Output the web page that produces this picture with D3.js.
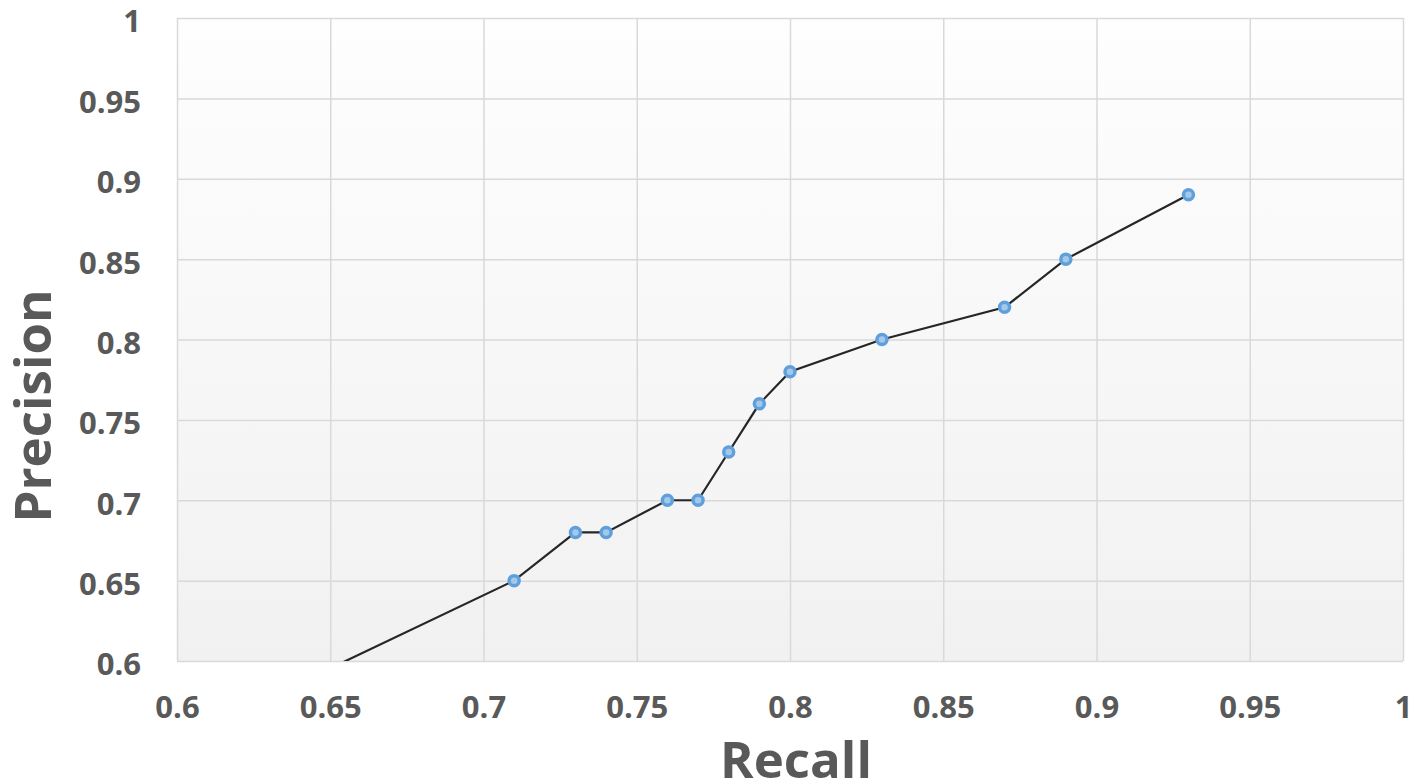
<!DOCTYPE html>
<html>
<head>
<meta charset="utf-8">
<script src="https://cdn.jsdelivr.net/npm/d3@7/dist/d3.min.js"></script>
<style>
  html, body { margin: 0; padding: 0; background: #fff; }
  svg text { font-family: "Open Sans", sans-serif; font-weight: bold; fill: #595959; }
</style>
</head>
<body>
<div id="chart"></div>
<script>
// precision / recall points (first one lies below the visible range)
const recall = [0.6, 0.71, 0.73, 0.74, 0.76, 0.77, 0.78, 0.79, 0.80, 0.83, 0.87, 0.89, 0.93];
const precision = [0.55, 0.65, 0.68, 0.68, 0.70, 0.70, 0.73, 0.76, 0.78, 0.80, 0.82, 0.85, 0.89];
const xTicks = [0.6, 0.65, 0.7, 0.75, 0.8, 0.85, 0.9, 0.95, 1];
const yTicks = [0.6, 0.65, 0.7, 0.75, 0.8, 0.85, 0.9, 0.95, 1];

const W = 1427, H = 784;
const margin = {top: 18, right: 24, bottom: 123, left: 177};
const width = W - margin.left - margin.right;
const height = H - margin.top - margin.bottom;

const svg = d3.select("#chart").append("svg")
  .attr("width", W)
  .attr("height", H);

const defs = svg.append("defs");
const grad = defs.append("linearGradient")
  .attr("id", "bg").attr("x1", 0).attr("y1", 0).attr("x2", 0).attr("y2", 1);
grad.append("stop").attr("offset", "0%").attr("stop-color", "#fefefe");
grad.append("stop").attr("offset", "100%").attr("stop-color", "#f1f1f1");

defs.append("clipPath").attr("id", "plotClip")
  .append("rect").attr("width", width).attr("height", height);

const g = svg.append("g").attr("transform", `translate(${margin.left},${margin.top})`);

const x = d3.scaleLinear().domain([0.6, 1]).range([0, width]);
const y = d3.scaleLinear().domain([0.6, 1]).range([height, 0]);

g.append("rect").attr("width", width).attr("height", height).attr("fill", "url(#bg)");

// gridlines
g.append("g")
  .call(d3.axisBottom(x).tickValues(xTicks).tickSize(height).tickFormat(""))
  .call(a => a.select(".domain").remove())
  .call(a => a.selectAll("line").attr("stroke", "#d9d9d9").attr("stroke-width", 1.5));
g.append("g")
  .call(d3.axisLeft(y).tickValues(yTicks).tickSize(-width).tickFormat(""))
  .call(a => a.select(".domain").remove())
  .call(a => a.selectAll("line").attr("stroke", "#d9d9d9").attr("stroke-width", 1.5));

// tick labels
const xAxis = g.append("g").attr("transform", `translate(0,${height})`)
  .call(d3.axisBottom(x).tickValues(xTicks).tickSize(0).tickPadding(35).tickFormat(d3.format("")));
xAxis.select(".domain").remove();
xAxis.selectAll("text").style("font-size", "31px");

const yAxis = g.append("g")
  .call(d3.axisLeft(y).tickValues(yTicks).tickSize(0).tickPadding(36).tickFormat(d3.format("")));
yAxis.select(".domain").remove();
yAxis.selectAll("text").style("font-size", "31px").attr("y", 4);

// series
const pts = recall.map((r, i) => ({r, p: precision[i]}));
const plot = g.append("g").attr("clip-path", "url(#plotClip)");

plot.append("path").datum(pts)
  .attr("fill", "none")
  .attr("stroke", "#262626")
  .attr("stroke-width", 2.2)
  .attr("d", d3.line().x(d => x(d.r)).y(d => y(d.p)));

plot.selectAll("circle").data(pts).join("circle")
  .attr("cx", d => x(d.r))
  .attr("cy", d => y(d.p))
  .attr("r", 5)
  .attr("fill", "#a4c8ea")
  .attr("stroke", "#5fa0dc")
  .attr("stroke-width", 3.5);

// axis titles
svg.append("text")
  .attr("x", margin.left + width / 2 + 6)
  .attr("y", 778)
  .attr("text-anchor", "middle")
  .style("font-size", "51px")
  .text("Recall");

svg.append("text")
  .attr("transform", "translate(51,406) rotate(-90)")
  .attr("text-anchor", "middle")
  .style("font-size", "51px")
  .text("Precision");
</script>
</body>
</html>
